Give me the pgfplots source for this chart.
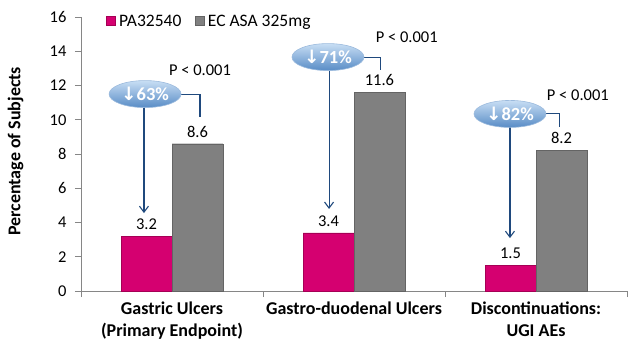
\documentclass[border=0pt]{standalone}
\usepackage{pgfplots}
\pgfplotsset{compat=1.18}
\usepackage{fontspec}
\setmainfont{Carlito}
\newfontfamily\dejavu{DejaVu Sans}
\usetikzlibrary{arrows.meta,shapes.geometric}
\definecolor{pinkbar}{RGB}{213,0,112}
\definecolor{pinkedge}{RGB}{165,0,85}
\definecolor{graybar}{RGB}{128,128,128}
\definecolor{grayedge}{RGB}{100,100,100}
\definecolor{arrowcol}{RGB}{31,73,125}
\definecolor{elltop}{RGB}{200,222,244}
\definecolor{ellbot}{RGB}{88,140,198}
\definecolor{axcol}{RGB}{134,134,134}
\newcommand{\fs}{\fontsize{16.5}{20}\selectfont}
\newcommand{\fb}{\fontsize{18}{22}\selectfont\bfseries}
\newcommand{\fl}{\fontsize{17.5}{21}\selectfont}
\begin{document}
\begin{tikzpicture}
\path[use as bounding box] (0,0) rectangle (640pt,351pt);
\begin{axis}[
  at={(81pt,60pt)}, anchor=south west,
  scale only axis, width=546pt, height=274pt,
  ymin=0, ymax=16, ytick={0,2,...,16},
  xmin=-0.5, xmax=2.5,
  xtick={0,1,2},
  xticklabels={{Gastric Ulcers\\(Primary Endpoint)},{Gastro-duodenal Ulcers},{Discontinuations:\\UGI AEs}},
  x tick label style={font=\fb, align=center, yshift=-1pt},
  y tick label style={font=\fs, xshift=-5pt},
  /pgf/number format/assume math mode=true,
  ybar=0pt, bar width=0.28,
  axis lines*=left,
  axis line style={axcol, line width=0.8pt},
  tick align=outside,
  major x tick style={draw=none},
  minor xtick={-0.5,0.5,1.5,2.5},
  minor tick length=6pt,
  major tick length=6pt,
  every tick/.style={axcol, line width=0.8pt},
  ylabel={Percentage of Subjects},
  ylabel style={font=\fb, at={(axis description cs:-0.12,0.51)}, anchor=center},
  legend style={at={(0.04,0.985)}, anchor=west, draw=none, fill=none,
    font=\fl, legend columns=2,
    nodes={inner xsep=3.5pt},
    /tikz/every even column/.append style={column sep=10pt}},
  nodes near coords,
  every node near coord/.append style={font=\fs, black, yshift=3pt},
  clip=false,
]
\addplot[fill=pinkbar, draw=pinkedge,
  legend image code/.code={\filldraw[fill=pinkbar, draw=pinkedge, line width=0.6pt] (0pt,-4pt) rectangle (9pt,5pt);}]
  coordinates {(0,3.2) (1,3.4) (2,1.5)};
\addplot[fill=graybar, draw=grayedge,
  legend image code/.code={\filldraw[fill=graybar, draw=grayedge, line width=0.6pt] (0pt,-4pt) rectangle (9pt,5pt);}]
  coordinates {(0,8.6) (1,11.6) (2,8.2)};
\legend{PA32540, EC ASA 325mg}

\tikzset{ell/.style={ellipse, minimum width=72pt, minimum height=27pt, inner sep=0pt,
  top color=elltop, bottom color=ellbot, draw=ellbot!60!white, line width=0.6pt,
  text=white, font=\fontsize{18.5}{20}\selectfont\bfseries},
  conn/.style={arrowcol, line width=1.1pt},
  arr/.style={arrowcol, line width=1.1pt, -{Straight Barb[length=6pt,width=9pt,line width=1.1pt]}}}

% group 1
\draw[arr] (axis cs:-0.154,11.5) -- (axis cs:-0.154,4.55);
\draw[conn] (axis cs:-0.148,11.5) -- (axis cs:0.154,11.5) -- (axis cs:0.154,10.16);
\node[ell] at (axis cs:-0.148,11.5) {{\dejavu\bfseries ↓}63\%};
\node[font=\fs] at (axis cs:0.154,12.9) {P < 0.001};
% group 2
\draw[arr] (axis cs:0.863,13.66) -- (axis cs:0.863,4.79);
\draw[conn] (axis cs:0.857,13.66) -- (axis cs:1.148,13.66) -- (axis cs:1.148,12.9);
\node[ell] at (axis cs:0.857,13.66) {{\dejavu\bfseries ↓}71\%};
\node[font=\fs] at (axis cs:1.29,14.83) {P < 0.001};
% group 3
\draw[arr] (axis cs:1.857,10.34) -- (axis cs:1.857,3.09);
\draw[conn] (axis cs:1.857,10.34) -- (axis cs:2.13,10.34) -- (axis cs:2.13,9.58);
\node[ell] at (axis cs:1.857,10.34) {{\dejavu\bfseries ↓}82\%};
\node[font=\fs] at (axis cs:2.23,11.45) {P < 0.001};
\end{axis}
\end{tikzpicture}
\end{document}
